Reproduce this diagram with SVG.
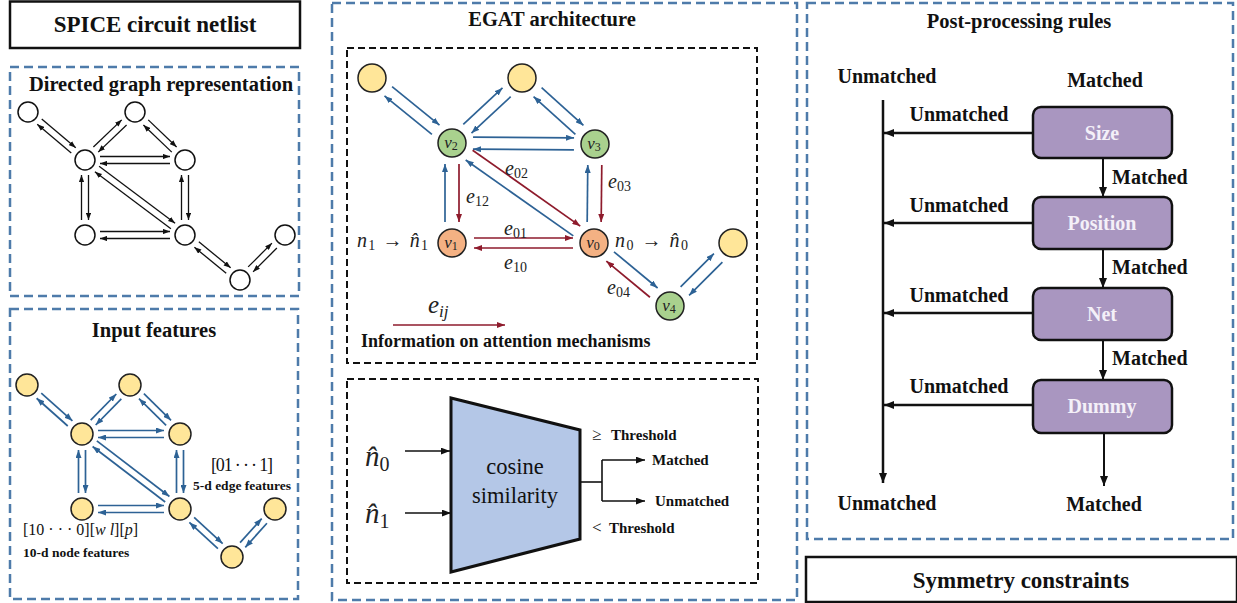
<svg xmlns="http://www.w3.org/2000/svg" width="1237" height="603" viewBox="0 0 1237 603">
<style>
.pb{fill:none;stroke:#4E7BAA;stroke-width:2.5;stroke-dasharray:9 5}
.pk{fill:none;stroke:#111;stroke-width:2;stroke-dasharray:7 4}
.ek{stroke:#111;stroke-width:1.3;marker-end:url(#mk)}
.eb{stroke:#2D6295;stroke-width:1.7;marker-end:url(#mb)}
.er{stroke:#8E1B2C;stroke-width:1.7;marker-end:url(#mr)}
.nw{fill:#fff;stroke:#111;stroke-width:1.5}
.ny{fill:#FFE699;stroke:#222;stroke-width:1.5}
.ng{fill:#A9D18E;stroke:#222;stroke-width:1.5}
.no{fill:#F4B183;stroke:#222;stroke-width:1.5}
.b{font-family:"Liberation Serif","Times New Roman","DejaVu Serif",serif;font-weight:bold;fill:#111}
.r{font-family:"Liberation Serif","Times New Roman","DejaVu Serif",serif;fill:#111}
.mi{font-family:"Liberation Serif","Times New Roman","DejaVu Serif",serif;font-style:italic;fill:#222}
.sub{font-style:normal}
.box{fill:#A996C0;stroke:#111;stroke-width:2.5}
.bt{font-family:"Liberation Serif","Times New Roman","DejaVu Serif",serif;font-weight:bold;font-size:20px;fill:#F4F0F8}
.fl{stroke:#111;stroke-width:2.5;fill:none;marker-end:url(#mK)}
.fs{stroke:#111;stroke-width:1.6;fill:none;marker-end:url(#mk2)}
</style>
<defs>
<marker id="mk" viewBox="0 0 8 6" refX="8" refY="3" markerWidth="7" markerHeight="5.5" markerUnits="userSpaceOnUse" orient="auto"><path d="M0,0 L8,3 L0,6 z" fill="#111"/></marker>
<marker id="mk2" viewBox="0 0 8 6" refX="8" refY="3" markerWidth="9" markerHeight="7" markerUnits="userSpaceOnUse" orient="auto"><path d="M0,0 L8,3 L0,6 z" fill="#111"/></marker>
<marker id="mb" viewBox="0 0 8 6" refX="8" refY="3" markerWidth="8" markerHeight="6" markerUnits="userSpaceOnUse" orient="auto"><path d="M0,0 L8,3 L0,6 z" fill="#2D6295"/></marker>
<marker id="mr" viewBox="0 0 8 6" refX="8" refY="3" markerWidth="8" markerHeight="6" markerUnits="userSpaceOnUse" orient="auto"><path d="M0,0 L8,3 L0,6 z" fill="#8E1B2C"/></marker>
<marker id="mK" viewBox="0 0 10 8" refX="10" refY="4" markerWidth="10" markerHeight="8" markerUnits="userSpaceOnUse" orient="auto"><path d="M0,0 L10,4 L0,8 z" fill="#111"/></marker>
</defs>
<rect width="1237" height="603" fill="#fff"/>

<!-- Panels -->
<g id="panels">
<rect x="10" y="1.5" width="290" height="46.5" fill="#fff" stroke="#111" stroke-width="2.5"/>
<rect class="pb" x="10" y="67" width="289" height="229"/>
<rect class="pb" x="10" y="309" width="288" height="290"/>
<rect class="pb" x="332" y="3" width="465" height="597"/>
<rect class="pk" x="347" y="48" width="410" height="315"/>
<rect class="pk" x="347" y="379" width="411" height="204"/>
<rect class="pb" x="807" y="3" width="426" height="536"/>
<rect x="806" y="557" width="431" height="45" fill="#fff" stroke="#111" stroke-width="2.5"/>
</g>

<g id="titles">
<text class="b" x="155" y="32" font-size="23" text-anchor="middle">SPICE circuit netlist</text>
<text class="b" x="161" y="91" font-size="20.5" text-anchor="middle">Directed graph representation</text>
<text class="b" x="154" y="337" font-size="20.5" text-anchor="middle">Input features</text>
<text class="b" x="552" y="26" font-size="20.5" text-anchor="middle">EGAT architecture</text>
<text class="b" x="1019" y="28" font-size="20.5" text-anchor="middle">Post-processing rules</text>
<text class="b" x="1021" y="588" font-size="23" text-anchor="middle">Symmetry constraints</text>
</g>

<!-- Connectors -->
<g id="connectors">
<!-- directed graph -->
<g transform="translate(28,112) rotate(40.1)"><line class="ek" x1="15" y1="-3.5" x2="59.5" y2="-3.5"/><line class="ek" x1="59.5" y1="3.5" x2="15" y2="3.5"/></g>
<g transform="translate(135,112) rotate(136.2)"><line class="ek" x1="15" y1="-3.5" x2="54.3" y2="-3.5"/><line class="ek" x1="54.3" y1="3.5" x2="15" y2="3.5"/></g>
<g transform="translate(135,112) rotate(43.8)"><line class="ek" x1="15" y1="-3.5" x2="54.3" y2="-3.5"/><line class="ek" x1="54.3" y1="3.5" x2="15" y2="3.5"/></g>
<g transform="translate(85,160)"><line class="ek" x1="15" y1="-3.5" x2="85" y2="-3.5"/><line class="ek" x1="85" y1="3.5" x2="15" y2="3.5"/></g>
<g transform="translate(85,160) rotate(90)"><line class="ek" x1="15" y1="-3.5" x2="60" y2="-3.5"/><line class="ek" x1="60" y1="3.5" x2="15" y2="3.5"/></g>
<g transform="translate(85,160) rotate(36.87)"><line class="ek" x1="15" y1="-3.5" x2="110" y2="-3.5"/><line class="ek" x1="110" y1="3.5" x2="15" y2="3.5"/></g>
<g transform="translate(185,160) rotate(90)"><line class="ek" x1="15" y1="-3.5" x2="60" y2="-3.5"/><line class="ek" x1="60" y1="3.5" x2="15" y2="3.5"/></g>
<g transform="translate(85,235)"><line class="ek" x1="15" y1="-3.5" x2="85" y2="-3.5"/><line class="ek" x1="85" y1="3.5" x2="15" y2="3.5"/></g>
<g transform="translate(185,235) rotate(39.3)"><line class="ek" x1="15" y1="-3.5" x2="56.1" y2="-3.5"/><line class="ek" x1="56.1" y1="3.5" x2="15" y2="3.5"/></g>
<g transform="translate(285,235) rotate(135)"><line class="ek" x1="15" y1="-3.5" x2="48.6" y2="-3.5"/><line class="ek" x1="48.6" y1="3.5" x2="15" y2="3.5"/></g>
<!-- input features graph -->
<g transform="translate(27,385) rotate(41.7)"><line class="eb" x1="16" y1="-3.5" x2="57.7" y2="-3.5"/><line class="eb" x1="57.7" y1="3.5" x2="16" y2="3.5"/></g>
<g transform="translate(130,385) rotate(134.4)"><line class="eb" x1="16" y1="-3.5" x2="52.6" y2="-3.5"/><line class="eb" x1="52.6" y1="3.5" x2="16" y2="3.5"/></g>
<g transform="translate(130,385) rotate(44.4)"><line class="eb" x1="16" y1="-3.5" x2="54" y2="-3.5"/><line class="eb" x1="54" y1="3.5" x2="16" y2="3.5"/></g>
<g transform="translate(82,434)"><line class="eb" x1="16" y1="-3.5" x2="82" y2="-3.5"/><line class="eb" x1="82" y1="3.5" x2="16" y2="3.5"/></g>
<g transform="translate(82,434) rotate(90)"><line class="eb" x1="16" y1="-3.5" x2="59" y2="-3.5"/><line class="eb" x1="59" y1="3.5" x2="16" y2="3.5"/></g>
<g transform="translate(82,434) rotate(37.4)"><line class="eb" x1="16" y1="-3.5" x2="107.4" y2="-3.5"/><line class="eb" x1="107.4" y1="3.5" x2="16" y2="3.5"/></g>
<g transform="translate(180,434) rotate(90)"><line class="eb" x1="16" y1="-3.5" x2="59" y2="-3.5"/><line class="eb" x1="59" y1="3.5" x2="16" y2="3.5"/></g>
<g transform="translate(82,509)"><line class="eb" x1="16" y1="-3.5" x2="82" y2="-3.5"/><line class="eb" x1="82" y1="3.5" x2="16" y2="3.5"/></g>
<g transform="translate(180,509) rotate(42.7)"><line class="eb" x1="16" y1="-3.5" x2="54.8" y2="-3.5"/><line class="eb" x1="54.8" y1="3.5" x2="16" y2="3.5"/></g>
<g transform="translate(275,509) rotate(131.9)"><line class="eb" x1="16" y1="-3.5" x2="48.4" y2="-3.5"/><line class="eb" x1="48.4" y1="3.5" x2="16" y2="3.5"/></g>
<!-- EGAT -->
<g transform="translate(372,78) rotate(39.1)"><line class="eb" x1="21" y1="-6" x2="82.1" y2="-6"/><line class="eb" x1="82.1" y1="6" x2="21" y2="6"/></g>
<g transform="translate(452,143) rotate(-42.9)"><line class="eb" x1="21" y1="-6" x2="74.5" y2="-6"/><line class="eb" x1="74.5" y1="6" x2="21" y2="6"/></g>
<g transform="translate(522,78) rotate(42.1)"><line class="eb" x1="21" y1="-6" x2="77.4" y2="-6"/><line class="eb" x1="77.4" y1="6" x2="21" y2="6"/></g>
<g transform="translate(452,143) rotate(0.4)"><line class="eb" x1="21" y1="-6" x2="122" y2="-6"/><line class="eb" x1="122" y1="6" x2="21" y2="6"/></g>
<g transform="translate(452,143) rotate(90)"><line class="er" x1="21" y1="-7" x2="79" y2="-7"/><line class="eb" x1="79" y1="7" x2="21" y2="7"/></g>
<g transform="translate(452,143) rotate(35.2)"><line class="er" x1="21" y1="-6" x2="152.7" y2="-6"/><line class="eb" x1="152.7" y1="6" x2="21" y2="6"/></g>
<g transform="translate(595,144) rotate(90.6)"><line class="er" x1="21" y1="-7" x2="78" y2="-7"/><line class="eb" x1="78" y1="7" x2="21" y2="7"/></g>
<g transform="translate(452,243)"><line class="er" x1="22" y1="-5" x2="121" y2="-5"/><line class="er" x1="121" y1="5" x2="22" y2="5"/></g>
<g transform="translate(594,243) rotate(39.7)"><line class="eb" x1="21" y1="-6" x2="77.7" y2="-6"/><line class="er" x1="77.7" y1="6" x2="21" y2="6"/></g>
<g transform="translate(670,306) rotate(-45)"><line class="eb" x1="21" y1="-6" x2="68.1" y2="-6"/><line class="eb" x1="68.1" y1="6" x2="21" y2="6"/></g>
<line class="er" x1="393" y1="325" x2="505" y2="325"/>
<!-- cosine similarity -->
<line class="fs" x1="405" y1="451" x2="450" y2="451"/>
<line class="fs" x1="405" y1="513" x2="451" y2="513"/>
<polyline points="580,482 602,482" fill="none" stroke="#111" stroke-width="1.6"/>
<polyline points="602,460 602,501" fill="none" stroke="#111" stroke-width="1.6"/>
<line class="fs" x1="602" y1="460" x2="645" y2="460"/>
<line class="fs" x1="602" y1="501" x2="645" y2="501"/>
<!-- post-processing -->
<line class="fl" x1="883" y1="100" x2="883" y2="483"/>
<line class="fl" x1="1033" y1="133" x2="884" y2="133"/>
<line class="fl" x1="1033" y1="223" x2="884" y2="223"/>
<line class="fl" x1="1033" y1="313" x2="884" y2="313"/>
<line class="fl" x1="1033" y1="405" x2="884" y2="405"/>
<line class="fl" x1="1103" y1="158" x2="1103" y2="197" style="stroke-width:2"/>
<line class="fl" x1="1103" y1="249" x2="1103" y2="288" style="stroke-width:2"/>
<line class="fl" x1="1103" y1="340" x2="1103" y2="380" style="stroke-width:2"/>
<line class="fl" x1="1104" y1="433" x2="1104" y2="486" style="stroke-width:2"/>
</g>

<!-- Directed graph nodes -->
<g id="dg-n1"><circle class="nw" cx="28" cy="112" r="10"/></g>
<g id="dg-n2"><circle class="nw" cx="135" cy="112" r="10"/></g>
<g id="dg-n3"><circle class="nw" cx="85" cy="160" r="10"/></g>
<g id="dg-n4"><circle class="nw" cx="185" cy="160" r="10"/></g>
<g id="dg-n5"><circle class="nw" cx="85" cy="235" r="10"/></g>
<g id="dg-n6"><circle class="nw" cx="185" cy="235" r="10"/></g>
<g id="dg-n7"><circle class="nw" cx="285" cy="235" r="10"/></g>
<g id="dg-n8"><circle class="nw" cx="240" cy="280" r="10"/></g>

<!-- Input features nodes -->
<g id="if-n1"><circle class="ny" cx="27" cy="385" r="11"/></g>
<g id="if-n2"><circle class="ny" cx="130" cy="385" r="11"/></g>
<g id="if-n3"><circle class="ny" cx="82" cy="434" r="11"/></g>
<g id="if-n4"><circle class="ny" cx="180" cy="434" r="11"/></g>
<g id="if-n5"><circle class="ny" cx="82" cy="509" r="11"/></g>
<g id="if-n6"><circle class="ny" cx="180" cy="509" r="11"/></g>
<g id="if-n7"><circle class="ny" cx="275" cy="509" r="11"/></g>
<g id="if-n8"><circle class="ny" cx="232" cy="557" r="11"/></g>
<g id="if-labels">
<text class="r" x="211" y="471" font-size="18" fill="#333" textLength="62" lengthAdjust="spacing">[01 · · · 1]</text>
<text class="b" x="242" y="490" font-size="13.5" text-anchor="middle">5-d edge features</text>
<text class="r" x="23" y="535" font-size="16" fill="#333">[10 · · · 0][<tspan font-style="italic">w l</tspan>][<tspan font-style="italic">p</tspan>]</text>
<text class="b" x="23" y="557" font-size="13.5">10-d node features</text>
</g>

<!-- EGAT nodes -->
<g id="eg-y1"><circle class="ny" cx="372" cy="78" r="14"/></g>
<g id="eg-y2"><circle class="ny" cx="522" cy="78" r="14"/></g>
<g id="eg-y3"><circle class="ny" cx="733" cy="243" r="14"/></g>
<g id="eg-v2"><circle class="ng" cx="452" cy="143" r="14"/><text class="mi" x="451" y="148" font-size="17" text-anchor="middle">v<tspan class="sub" font-size="12" dy="2">2</tspan></text></g>
<g id="eg-v3"><circle class="ng" cx="595" cy="144" r="14"/><text class="mi" x="594" y="149" font-size="17" text-anchor="middle">v<tspan class="sub" font-size="12" dy="2">3</tspan></text></g>
<g id="eg-v1"><circle class="no" cx="452" cy="243" r="14"/><text class="mi" x="451" y="248" font-size="17" text-anchor="middle">v<tspan class="sub" font-size="12" dy="2">1</tspan></text></g>
<g id="eg-v0"><circle class="no" cx="594" cy="243" r="14"/><text class="mi" x="593" y="248" font-size="17" text-anchor="middle">v<tspan class="sub" font-size="12" dy="2">0</tspan></text></g>
<g id="eg-v4"><circle class="ng" cx="670" cy="306" r="14"/><text class="mi" x="669" y="311" font-size="17" text-anchor="middle">v<tspan class="sub" font-size="12" dy="2">4</tspan></text></g>
<g id="eg-labels">
<text class="mi" x="505" y="175" font-size="20">e<tspan class="sub" font-size="14" dy="3">02</tspan></text>
<text class="mi" x="466" y="203" font-size="20">e<tspan class="sub" font-size="14" dy="3">12</tspan></text>
<text class="mi" x="608" y="188" font-size="20">e<tspan class="sub" font-size="14" dy="3">03</tspan></text>
<text class="mi" x="504" y="235" font-size="20">e<tspan class="sub" font-size="14" dy="3">01</tspan></text>
<text class="mi" x="504" y="269" font-size="20">e<tspan class="sub" font-size="14" dy="3">10</tspan></text>
<text class="mi" x="607" y="294" font-size="20">e<tspan class="sub" font-size="14" dy="3">04</tspan></text>
<text class="mi" x="357" y="247" font-size="20" textLength="71" lengthAdjust="spacing">n<tspan class="sub" font-size="14" dy="3">1</tspan><tspan class="sub" dy="-3"> → </tspan>n̂<tspan class="sub" font-size="14" dy="3">1</tspan></text>
<text class="mi" x="615" y="247" font-size="20" textLength="73" lengthAdjust="spacing">n<tspan class="sub" font-size="14" dy="3">0</tspan><tspan class="sub" dy="-3"> → </tspan>n̂<tspan class="sub" font-size="14" dy="3">0</tspan></text>
<text class="mi" x="428" y="313" font-size="25">e<tspan font-size="17" dy="4">ij</tspan></text>
<text class="b" x="361" y="347" font-size="18">Information on attention mechanisms</text>
</g>

<!-- Cosine similarity -->
<g id="cosine">
<polygon points="451,398 580,430 580,539 451,572" fill="#B4C7E7" stroke="#111" stroke-width="3"/>
<text class="r" x="515" y="474" font-size="22.5" text-anchor="middle">cosine</text>
<text class="r" x="515" y="503" font-size="22.5" text-anchor="middle">similarity</text>
</g>
<g id="cos-labels">
<text class="mi" x="365" y="466" font-size="29">n̂<tspan class="sub" font-size="20" dy="5">0</tspan></text>
<text class="mi" x="365" y="523" font-size="29">n̂<tspan class="sub" font-size="20" dy="5">1</tspan></text>
<text class="r" x="592" y="440" font-size="17">≥</text>
<text class="b" x="611" y="440" font-size="15">Threshold</text>
<text class="b" x="652" y="465" font-size="15">Matched</text>
<text class="b" x="655" y="506" font-size="15">Unmatched</text>
<text class="r" x="592" y="533" font-size="17">&lt;</text>
<text class="b" x="609" y="533" font-size="15">Threshold</text>
</g>

<!-- Post-processing -->
<g id="pp-size"><rect class="box" x="1033" y="107" width="139" height="51" rx="8"/><text class="bt" x="1102" y="140" text-anchor="middle">Size</text></g>
<g id="pp-position"><rect class="box" x="1033" y="197" width="139" height="52" rx="8"/><text class="bt" x="1102" y="230" text-anchor="middle">Position</text></g>
<g id="pp-net"><rect class="box" x="1033" y="288" width="139" height="52" rx="8"/><text class="bt" x="1102" y="321" text-anchor="middle">Net</text></g>
<g id="pp-dummy"><rect class="box" x="1033" y="380" width="139" height="53" rx="8"/><text class="bt" x="1102" y="413" text-anchor="middle">Dummy</text></g>
<g id="pp-labels">
<text class="b" x="887" y="83" font-size="20" text-anchor="middle">Unmatched</text>
<text class="b" x="1105" y="87" font-size="20" text-anchor="middle">Matched</text>
<text class="b" x="959" y="121" font-size="20" text-anchor="middle">Unmatched</text>
<text class="b" x="959" y="212" font-size="20" text-anchor="middle">Unmatched</text>
<text class="b" x="959" y="302" font-size="20" text-anchor="middle">Unmatched</text>
<text class="b" x="959" y="393" font-size="20" text-anchor="middle">Unmatched</text>
<text class="b" x="1112" y="184" font-size="20">Matched</text>
<text class="b" x="1112" y="274" font-size="20">Matched</text>
<text class="b" x="1112" y="365" font-size="20">Matched</text>
<text class="b" x="887" y="510" font-size="20" text-anchor="middle">Unmatched</text>
<text class="b" x="1104" y="511" font-size="20" text-anchor="middle">Matched</text>
</g>
</svg>
